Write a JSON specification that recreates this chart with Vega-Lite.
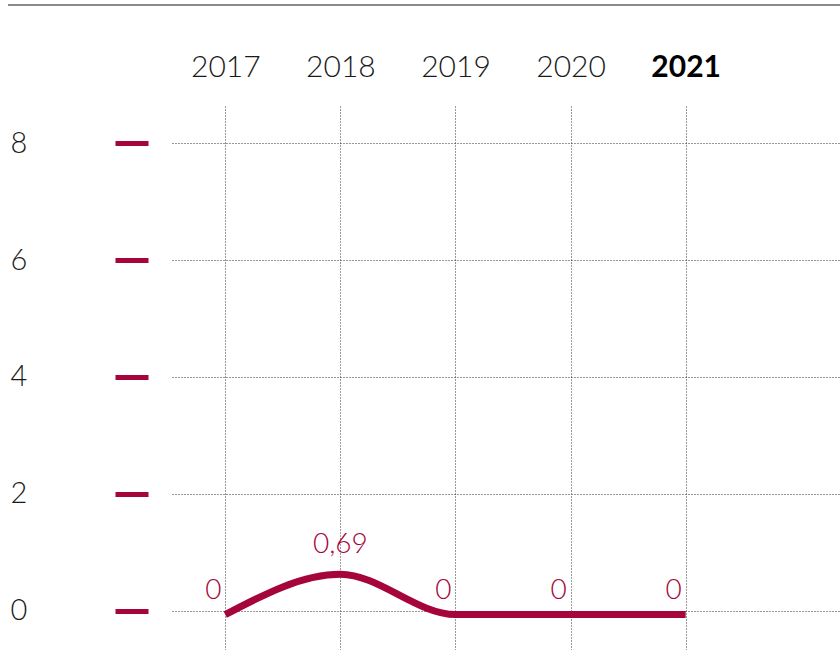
{
  "$schema": "https://vega.github.io/schema/vega-lite/v6.json",
  "width": 668,
  "height": 545,
  "autosize": {"type": "none"},
  "padding": {"left": 172, "top": 105, "right": 0, "bottom": 0},
  "background": "white",
  "config": {
    "view": {"stroke": null},
    "font": "Lato",
    "locale": {"number": {"decimal": ",", "thousands": ".", "grouping": [3], "currency": ["", " €"]}}
  },
  "data": {"values": [
    {"year": 2017, "value": 0},
    {"year": 2018, "value": 0.69},
    {"year": 2019, "value": 0},
    {"year": 2020, "value": 0},
    {"year": 2021, "value": 0}
  ]},
  "encoding": {
    "x": {
      "field": "year", "type": "quantitative",
      "scale": {"domain": [2016.537, 2022.341], "nice": false, "zero": false},
      "axis": {
        "orient": "top", "values": [2017, 2018, 2019, 2020, 2021], "format": "d", "title": null,
        "domain": false, "ticks": false, "tickSize": 0, "labelPadding": 29, "labelBaseline": "alphabetic",
        "labelFont": "Lato", "labelFontSize": 30,
        "labelFontWeight": {"condition": {"test": "datum.value == 2021", "value": "bold"}, "value": 300},
        "labelColor": {"condition": {"test": "datum.value == 2021", "value": "#000000"}, "value": "#1a1a1a"},
        "grid": true, "gridColor": "#333333", "gridDash": [1, 2], "gridWidth": 1
      }
    },
    "y": {
      "field": "value", "type": "quantitative",
      "scale": {"domain": [-0.674, 8.653], "nice": false, "zero": false},
      "axis": {
        "values": [0, 2, 4, 6, 8], "title": null, "domain": false,
        "offset": 24, "ticks": true, "tickSize": 33, "tickWidth": 5, "tickColor": "#a5053a", "tickCap": "butt",
        "labelAlign": "left", "labelPadding": 105, "labelBaseline": "middle",
        "labelFont": "Lato", "labelFontSize": 29, "labelFontWeight": 300, "labelColor": "#1a1a1a",
        "grid": true, "gridColor": "#333333", "gridDash": [1, 2], "gridWidth": 1
      }
    }
  },
  "layer": [
    {
      "mark": {"type": "rule", "color": "#8a8a8a", "strokeWidth": 1.5, "clip": false},
      "encoding": {
        "x": {"datum": 2015.112},
        "x2": {"datum": 2022.341},
        "y": {"datum": 10.365}
      }
    },
    {
      "mark": {"type": "line", "color": "#a5053a", "strokeWidth": 7, "interpolate": "monotone", "strokeCap": "butt", "yOffset": 4}
    },
    {
      "transform": [{"filter": "datum.value == 0"}],
      "mark": {"type": "text", "color": "#a5053a", "font": "Lato", "fontWeight": 300, "fontSize": 28, "align": "center", "baseline": "alphabetic", "dx": -12, "dy": -12},
      "encoding": {"text": {"field": "value", "type": "quantitative", "format": ".2~f"}}
    },
    {
      "transform": [{"filter": "datum.value != 0"}],
      "mark": {"type": "text", "color": "#a5053a", "font": "Lato", "fontWeight": 300, "fontSize": 28, "align": "center", "baseline": "alphabetic", "dx": 0, "dy": -17},
      "encoding": {"text": {"field": "value", "type": "quantitative", "format": ".2~f"}}
    }
  ]
}
